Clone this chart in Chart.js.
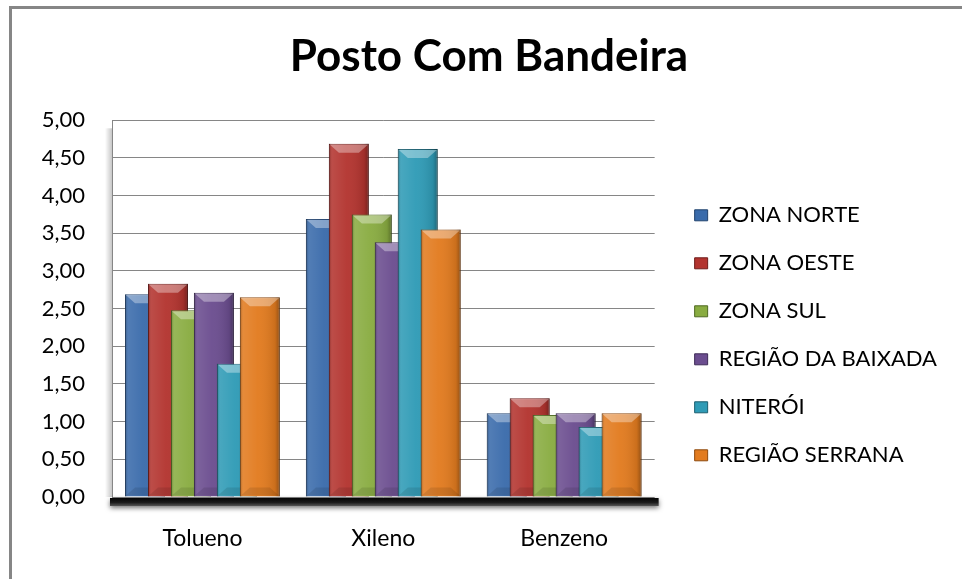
<!DOCTYPE html>
<html>
<head>
<meta charset="utf-8">
<title>Posto Com Bandeira</title>
<script src="https://cdn.jsdelivr.net/npm/chart.js"></script>
<style>
  html, body { margin: 0; padding: 0; background: #fff; }
</style>
</head>
<body>
<canvas id="chart" width="962" height="579"></canvas>
<script>
const categories = ['Tolueno', 'Xileno', 'Benzeno'];

const zonaNorte = [2.69, 3.69, 1.11];
const zonaOeste = [2.83, 4.69, 1.31];
const zonaSul = [2.48, 3.75, 1.09];
const regiaoBaixada = [2.71, 3.38, 1.11];
const niteroi = [1.77, 4.62, 0.93];
const regiaoSerrana = [2.65, 3.55, 1.11];

const seriesNames = ['ZONA NORTE', 'ZONA OESTE', 'ZONA SUL', 'REGIÃO DA BAIXADA', 'NITERÓI', 'REGIÃO SERRANA'];
const seriesValues = [zonaNorte, zonaOeste, zonaSul, regiaoBaixada, niteroi, regiaoSerrana];

const yTicks = [0, 0.5, 1, 1.5, 2, 2.5, 3, 3.5, 4, 4.5, 5];

const fills = ['#3a6bab', '#b3342f', '#89ac41', '#6b4d8f', '#2f9bb6', '#e27b1f'];
const edges = ['#22436e', '#6e1c1a', '#4f6a22', '#3e2b57', '#1b5f70', '#8e4a0f'];

// bevel look on each bar, drawn right after its dataset so later series overlap it
function shadeBar(ctx, bar) {
  const { x, y, base, width } = bar.getProps(['x', 'y', 'base', 'width'], true);
  const x0 = x - width / 2, x1 = x + width / 2, h = base - y;
  ctx.save();
  const g = ctx.createLinearGradient(x0, 0, x1, 0);
  g.addColorStop(0, 'rgba(0,0,0,0.25)');
  g.addColorStop(0.08, 'rgba(255,255,255,0.12)');
  g.addColorStop(0.45, 'rgba(255,255,255,0.04)');
  g.addColorStop(0.88, 'rgba(0,0,0,0.10)');
  g.addColorStop(1, 'rgba(0,0,0,0.35)');
  ctx.fillStyle = g;
  ctx.fillRect(x0, y, width, h);
  const b = Math.min(9, h / 2);
  ctx.beginPath();
  ctx.moveTo(x0 + 1, y + 1);
  ctx.lineTo(x1 - 1, y + 1);
  ctx.lineTo(x1 - 1 - b, y + b);
  ctx.lineTo(x0 + 1 + b, y + b);
  ctx.closePath();
  ctx.fillStyle = 'rgba(255,255,255,0.35)';
  ctx.fill();
  ctx.beginPath();
  ctx.moveTo(x0 + 1, base - 1);
  ctx.lineTo(x1 - 1, base - 1);
  ctx.lineTo(x1 - 1 - b, base - b);
  ctx.lineTo(x0 + 1 + b, base - b);
  ctx.closePath();
  ctx.fillStyle = 'rgba(0,0,0,0.10)';
  ctx.fill();
  ctx.restore();
}

const decor = {
  id: 'decor',
  beforeDraw(chart) {
    const ctx = chart.ctx, a = chart.chartArea;
    ctx.save();
    ctx.fillStyle = '#868686';
    ctx.fillRect(9, 6, chart.width - 9, 3);
    ctx.fillRect(9, 6, 3, chart.height - 6);
    const g = ctx.createLinearGradient(a.left - 7, 0, a.left, 0);
    g.addColorStop(0, 'rgba(0,0,0,0)');
    g.addColorStop(1, 'rgba(0,0,0,0.22)');
    ctx.fillStyle = g;
    ctx.fillRect(a.left - 7, a.top + 8, 7, a.bottom - a.top - 8);
    ctx.restore();
  },
  beforeDatasetsDraw(chart) {
    const ctx = chart.ctx, a = chart.chartArea;
    ctx.save();
    ctx.shadowColor = 'rgba(0,0,0,0.55)';
    ctx.shadowBlur = 5;
    ctx.shadowOffsetY = 2;
    const fg = ctx.createLinearGradient(0, a.bottom, 0, a.bottom + 9);
    fg.addColorStop(0, '#000');
    fg.addColorStop(0.6, '#1a1a1a');
    fg.addColorStop(1, '#555');
    ctx.fillStyle = fg;
    ctx.fillRect(a.left - 2, a.bottom + 1, a.right - a.left + 6, 8);
    ctx.restore();
    chart.data.datasets.forEach((ds, i) => {
      if (!chart.isDatasetVisible(i)) return;
      const meta = chart.getDatasetMeta(i);
      meta.controller.draw();
      meta.data.forEach(bar => shadeBar(ctx, bar));
    });
    return false;
  }
};

new Chart(document.getElementById('chart'), {
  type: 'bar',
  data: {
    labels: categories,
    datasets: seriesNames.map((name, i) => ({
      label: name,
      data: seriesValues[i],
      backgroundColor: fills[i],
      borderColor: edges[i],
      borderWidth: 1,
      categoryPercentage: 0.762,
      barPercentage: 1.74
    }))
  },
  options: {
    responsive: false,
    animation: false,
    layout: { padding: { left: 31, right: 15, top: 0, bottom: 27 } },
    plugins: {
      title: {
        display: true,
        text: 'Posto Com Bandeira',
        color: '#000',
        font: { family: 'Lato', size: 44, weight: 'bold' },
        padding: { top: 30.5, bottom: 37 }
      },
      legend: {
        position: 'right',
        align: 'start',
        fullSize: false,
        maxWidth: 320,
        title: { display: true, text: ' ', font: { size: 10 }, padding: { top: 46, bottom: 0 } },
        labels: {
          color: '#000',
          font: { family: 'Lato', size: 22 },
          boxWidth: 13,
          boxHeight: 11,
          padding: 26
        }
      },
      tooltip: { enabled: false }
    },
    scales: {
      x: {
        grid: { display: false, drawTicks: false },
        border: { display: false },
        afterFit: s => { s.height = 55; },
        ticks: { color: '#000', font: { family: 'Lato', size: 23 }, padding: 28 }
      },
      y: {
        min: 0,
        max: 5,
        afterBuildTicks: s => { s.ticks = yTicks.map(v => ({ value: v })); },
        afterFit: s => { s.width = 81; },
        grid: { color: '#868686', drawTicks: false },
        border: { color: '#868686' },
        ticks: {
          color: '#000',
          font: { family: 'Lato', size: 22 },
          padding: 27,
          callback: v => v.toFixed(2).replace('.', ',')
        }
      },
      y2: {
        position: 'right',
        grid: { display: false, drawTicks: false },
        border: { display: false },
        ticks: { display: false },
        afterFit: s => { s.width = 14; }
      }
    }
  },
  plugins: [decor]
});
</script>
</body>
</html>
